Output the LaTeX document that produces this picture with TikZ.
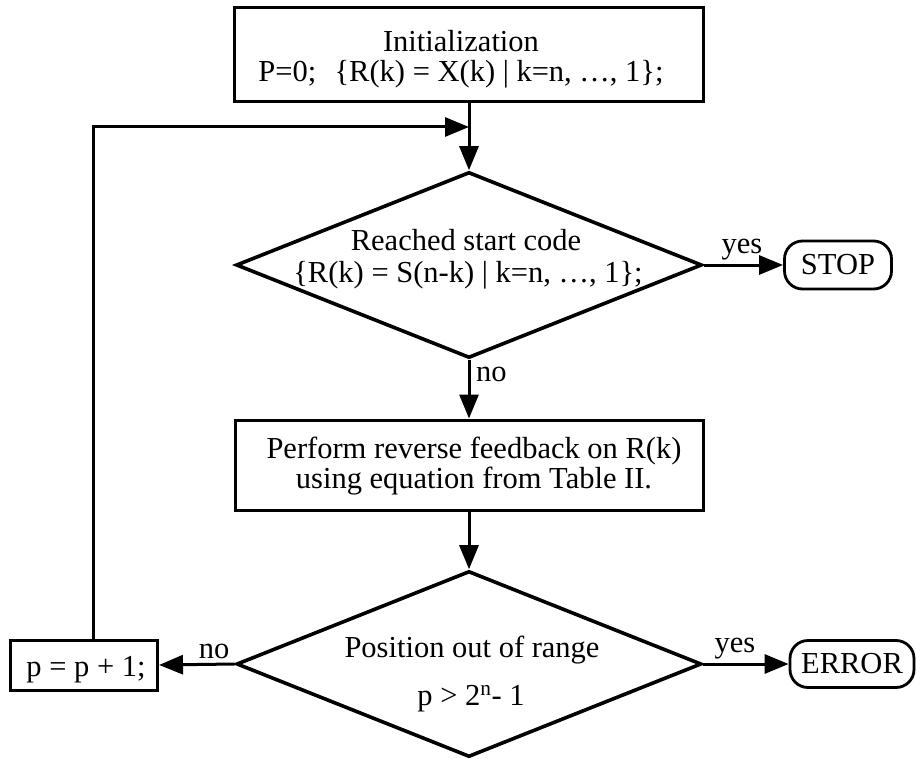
\documentclass[tikz,border=0pt]{standalone}
\usepackage{fontspec}
\setmainfont{Liberation Serif}
\usetikzlibrary{shapes.geometric,arrows.meta}
\begin{document}
\begin{tikzpicture}[x=1pt,y=-1pt,
  box/.style={draw, line width=3pt, inner sep=0pt},
  dec/.style={draw, diamond, line width=3.6pt, inner sep=0pt},
  term/.style={draw, line width=2.8pt, rounded corners=18pt, inner sep=0pt, font=\fontsize{30.5}{30}\selectfont},
  txt/.style={anchor=base, inner sep=0pt, font=\fontsize{30.5}{30}\selectfont},
  conn/.style={line width=3pt, -{Triangle[length=24pt,width=19pt]}}]
\path[use as bounding box] (0,0) rectangle (917,759);

% initialization box
\node[box, minimum width=469pt, minimum height=94pt] (init) at (469,55) {};
\node[txt] (initA) at (461,52) {Initialization};
\node[txt] (initB) at (461,82) {P=0;\hspace{0.6em}\{R(k) = X(k) | k=n, …, 1\};};

% first decision
\node[dec, minimum width=466pt, minimum height=186pt] (d1) at (469,265) {};
\node[txt] (d1a) at (466,250) {Reached start code};
\node[txt] (d1b) at (468,282) {\{R(k) = S(n-k) | k=n, …, 1\};};

% stop terminal
\node[term, minimum width=107pt, minimum height=48pt] (stop) at (838,265) {STOP};

% process box
\node[box, minimum width=468pt, minimum height=90pt] (proc) at (469,465) {};
\node[txt] (procA) at (474,458) {Perform reverse feedback on R(k)};
\node[txt] (procB) at (474,488) {using equation from Table II.};

% second decision
\node[dec, minimum width=465pt, minimum height=186pt] (d2) at (469,664) {};
\node[txt] (d2a) at (472,657) {Position out of range};
\node[txt] (d2b) at (471,705) {p > 2\textsuperscript{n}- 1};

% error terminal
\node[term, minimum width=124pt, minimum height=47pt] (err) at (852,664) {ERROR};

% increment box
\node[box, minimum width=147pt, minimum height=50pt] (inc) at (84,665) {};
\node[txt] (incT) at (86,676) {p = p + 1;};

% connectors
\coordinate (lp) at (93,127);
\draw[conn] (init.south) -- (d1.north);
\draw[conn] (inc.north -| lp) |- (init.south |- lp);
\draw[conn] (d1.east) -- (stop.west);
\node[txt] (yes1) at (742,253) {yes};
\draw[conn] (d1.south) -- (proc.north);
\node[txt, anchor=base west] (no1) at (476,381) {no};
\draw[conn] (proc.south) -- (d2.north);
\draw[conn] (d2.east) -- (err.west);
\node[txt] (yes2) at (735,652) {yes};
\draw[conn] (d2.west) -- (inc.east);
\node[txt] (no2) at (214,658) {no};
\end{tikzpicture}
\end{document}
